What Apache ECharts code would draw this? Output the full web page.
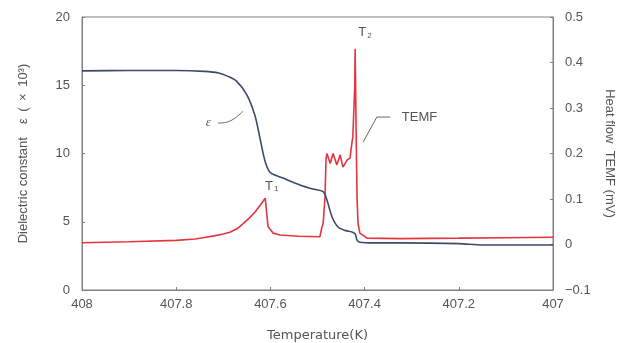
<!DOCTYPE html>
<html>
<head>
<meta charset="utf-8">
<script src="https://cdn.jsdelivr.net/npm/echarts@6/dist/echarts.min.js"></script>
<style>
html,body{margin:0;padding:0;background:#fff;}
#c{width:618px;height:343px;}
</style>
</head>
<body>
<div id="c"></div>
<script>
// Dielectric constant ε (×10^3) vs temperature
const epsT = [408, 407.9, 407.8, 407.74, 407.71, 407.69, 407.672, 407.65, 407.633, 407.622, 407.611, 407.600, 407.573, 407.537, 407.51, 407.488, 407.480, 407.469, 407.456, 407.44, 407.427, 407.42, 407.416, 407.41, 407.38, 407.325, 407.2, 407.15, 407.1, 407];
const epsV = [16.05, 16.08, 16.08, 16.02, 15.9, 15.65, 15.3, 14.3, 12.8, 11.1, 9.4, 8.6, 8.2, 7.7, 7.4, 7.2, 6.6, 5.35, 4.6, 4.35, 4.25, 4.1, 3.66, 3.5, 3.45, 3.45, 3.4, 3.3, 3.3, 3.3];

// Heat flow TEMF (mV) vs temperature
const temfT = [408, 407.9, 407.8, 407.76, 407.743, 407.72, 407.70, 407.686, 407.67, 407.658, 407.645, 407.633, 407.625, 407.617, 407.611, 407.608, 407.605, 407.594, 407.58, 407.54, 407.495, 407.491, 407.488, 407.484, 407.482, 407.480, 407.473, 407.467, 407.459, 407.452, 407.446, 407.437, 407.431, 407.427, 407.425, 407.421, 407.420, 407.418, 407.416, 407.414, 407.410, 407.395, 407.325, 407.2, 407.1, 407];
const temfV = [0.004, 0.006, 0.009, 0.012, 0.015, 0.019, 0.023, 0.027, 0.035, 0.046, 0.058, 0.071, 0.082, 0.093, 0.102, 0.106, 0.039, 0.025, 0.021, 0.018, 0.017, 0.036, 0.047, 0.104, 0.186, 0.2, 0.178, 0.2, 0.175, 0.197, 0.17, 0.186, 0.19, 0.223, 0.236, 0.344, 0.43, 0.25, 0.1, 0.047, 0.025, 0.014, 0.013, 0.014, 0.015, 0.016];

const xTicks = [408, 407.8, 407.6, 407.4, 407.2, 407];
const leftTicks = [0, 5, 10, 15, 20];
const rightTicks = [-0.1, 0, 0.1, 0.2, 0.3, 0.4, 0.5];

const epsData = epsT.map((t, i) => [t, epsV[i]]);
const temfData = temfT.map((t, i) => [t, temfV[i]]);

const FONT = 'Liberation Sans';
const TXT = '#555';
const AX = '#808080';

const chart = echarts.init(document.getElementById('c'));
chart.setOption({
  animation: false,
  backgroundColor: '#fff',
  textStyle: {fontFamily: FONT},
  grid: {left: 82, right: 65, top: 17, bottom: 53, show: true, borderColor: AX, borderWidth: 1,
    containLabel: false, outerBoundsMode: 'none'},
  xAxis: {
    type: 'value', inverse: true, min: 407, max: 408, interval: 0.2,
    axisLine: {show: true, lineStyle: {color: AX}},
    axisTick: {show: true, inside: true, length: 3, lineStyle: {color: AX}},
    splitLine: {show: false},
    axisLabel: {color: TXT, fontSize: 13, fontFamily: FONT, margin: 8,
      formatter: v => String(Math.round(v * 10) / 10)},
    name: 'Temperature(K)', nameLocation: 'middle', nameGap: 39,
    nameTextStyle: {color: TXT, fontSize: 13, fontFamily: 'DejaVu Sans'}
  },
  yAxis: [{
    type: 'value', min: leftTicks[0], max: leftTicks[leftTicks.length - 1], interval: 5,
    axisLine: {show: true, lineStyle: {color: AX}},
    axisTick: {show: true, inside: true, length: 3, lineStyle: {color: AX}},
    splitLine: {show: false},
    axisLabel: {color: TXT, fontSize: 13, fontFamily: FONT, margin: 12},
    name: 'Dielectric constant\u2002\u2002ε\u2002(\u2002×\u200210³)', nameLocation: 'middle', nameGap: 52, nameRotate: 90,
    nameTextStyle: {color: TXT, fontSize: 13, fontFamily: FONT}
  }, {
    type: 'value', min: rightTicks[0], max: rightTicks[rightTicks.length - 1], interval: 0.1,
    position: 'right',
    axisLine: {show: true, lineStyle: {color: AX}},
    axisTick: {show: true, inside: true, length: 3, lineStyle: {color: AX}},
    splitLine: {show: false},
    axisLabel: {color: TXT, fontSize: 13, fontFamily: FONT, margin: 12,
      formatter: v => { const r = Math.round(v * 10) / 10; return r < 0 ? '−' + Math.abs(r) : String(r); }},
    name: 'Heat flow  TEMF (mV)', nameLocation: 'middle', nameGap: 50, nameRotate: -90,
    nameTextStyle: {color: TXT, fontSize: 13, fontFamily: FONT}
  }],
  series: [{
    type: 'line', data: epsData, yAxisIndex: 0, showSymbol: false, smooth: 0.3,
    lineStyle: {color: '#3c4a6e', width: 1.6}, z: 3
  }, {
    type: 'line', data: temfData, yAxisIndex: 1, showSymbol: false,
    lineStyle: {color: '#e2353f', width: 1.6}, z: 2
  }]
});

// Annotations placed in data space (T, ε) and converted through the chart's scales
const P = (t, v) => chart.convertToPixel({xAxisIndex: 0, yAxisIndex: 0}, [t, v]);
const epsLbl = P(407.732, 12.23);
const epsLead = [[407.711, 12.23], [407.692, 12.3], [407.675, 12.6], [407.658, 13.1]].map(p => P(p[0], p[1]));
const t1 = P(407.603, 7.6);
const t2 = P(407.405, 18.85);
const temfLbl = P(407.321, 12.67);
const temfLead = [[407.403, 10.84], [407.374, 12.67], [407.346, 12.67]].map(p => P(p[0], p[1]));

chart.setOption({
  graphic: [
    {type: 'text', x: epsLbl[0], y: epsLbl[1], style: {text: 'ε', font: 'italic 13px "Liberation Serif"', fill: TXT, align: 'center', verticalAlign: 'middle'}},
    {type: 'polyline', shape: {points: epsLead, smooth: 0.4}, style: {stroke: '#666', lineWidth: 1, fill: null}},
    {type: 'text', x: t1[0], y: t1[1], style: {text: 'T', font: '13px "Liberation Sans"', fill: TXT, align: 'center', verticalAlign: 'middle'}},
    {type: 'text', x: t1[0] + 5, y: t1[1] + 3, style: {text: '1', font: '8px "Liberation Sans"', fill: TXT, align: 'left', verticalAlign: 'middle'}},
    {type: 'text', x: t2[0], y: t2[1], style: {text: 'T', font: '13px "Liberation Sans"', fill: TXT, align: 'center', verticalAlign: 'middle'}},
    {type: 'text', x: t2[0] + 5, y: t2[1] + 3, style: {text: '2', font: '8px "Liberation Sans"', fill: TXT, align: 'left', verticalAlign: 'middle'}},
    {type: 'polyline', shape: {points: temfLead}, style: {stroke: '#666', lineWidth: 1, fill: null}},
    {type: 'text', x: temfLbl[0], y: temfLbl[1], style: {text: 'TEMF', font: '13px "Liberation Sans"', fill: TXT, align: 'left', verticalAlign: 'middle'}}
  ]
});
</script>
</body>
</html>
